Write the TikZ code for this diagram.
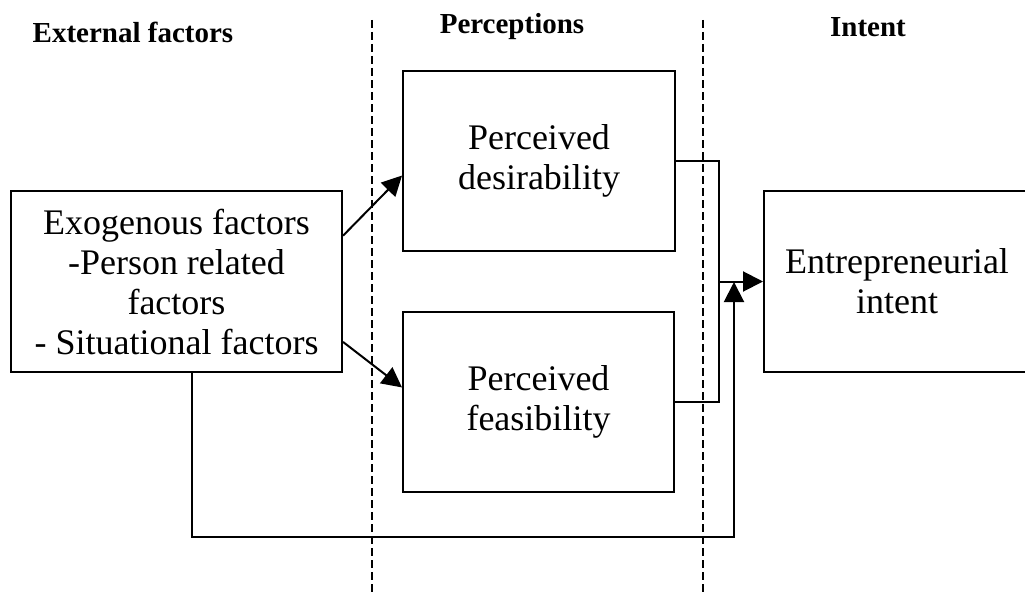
\documentclass[tikz,border=0pt]{standalone}
\usepackage{fontspec}
\setmainfont{Liberation Serif}
\usetikzlibrary{arrows.meta,calc}
\tikzset{
  box/.style={draw, line width=2pt, align=center, inner sep=0pt,
    font=\fontsize{36}{40}\selectfont},
  head/.style={font=\fontsize{29}{32}\selectfont\bfseries, inner sep=0pt},
  conn/.style={line width=2pt},
  tri/.style={-{Triangle[length=20pt,width=20pt]}},
  divider/.style={line width=1.5pt, dash pattern=on 8pt off 4pt}
}
\begin{document}
\begin{tikzpicture}[x=1pt,y=-1pt]
\useasboundingbox (0,0) rectangle (1025,594);
% dividers
\coordinate (d1t) at (372,20);
\coordinate (d1b) at (372,594);
\coordinate (d2t) at (703,20);
\coordinate (d2b) at (703,594);
\draw[divider] (d1t) -- (d1b);
\draw[divider] (d2t) -- (d2b);
% headings
\node[head] (h1) at (133,32) {External factors};
\node[head] (h2) at (512,27) {Perceptions};
\node[head] (h3) at (868,27) {Intent};
% boxes
\node[box, minimum width=331, minimum height=181] (exo) at (176.5,281.5)
  {Exogenous factors\\-Person related\\factors\\- Situational factors};
\node[box, minimum width=272, minimum height=180] (des) at (539,161)
  {Perceived\\desirability};
\node[box, minimum width=271, minimum height=180] (fea) at (538.5,402)
  {Perceived\\feasibility};
\node[box, minimum width=266, minimum height=181] (int) at (897,281.5)
  {Entrepreneurial\\intent};
% connectors
\coordinate (cx) at (719,281.5);
\draw[conn] (des.east) -| (cx) |- (fea.east);
\draw[conn,tri] (cx) -- (int.west);
\draw[conn,tri] ($(exo.north east)!0.25!(exo.south east)$) -- ($(des.north west)!0.58!(des.south west)$);
\draw[conn,tri] ($(exo.north east)!0.83!(exo.south east)$) -- ($(fea.north west)!0.42!(fea.south west)$);
\coordinate (b1) at (192,537);
\coordinate (tip) at (734,282);
\draw[conn,tri] (exo.south -| b1) |- (tip |- b1) -- (tip);
\end{tikzpicture}
\end{document}
